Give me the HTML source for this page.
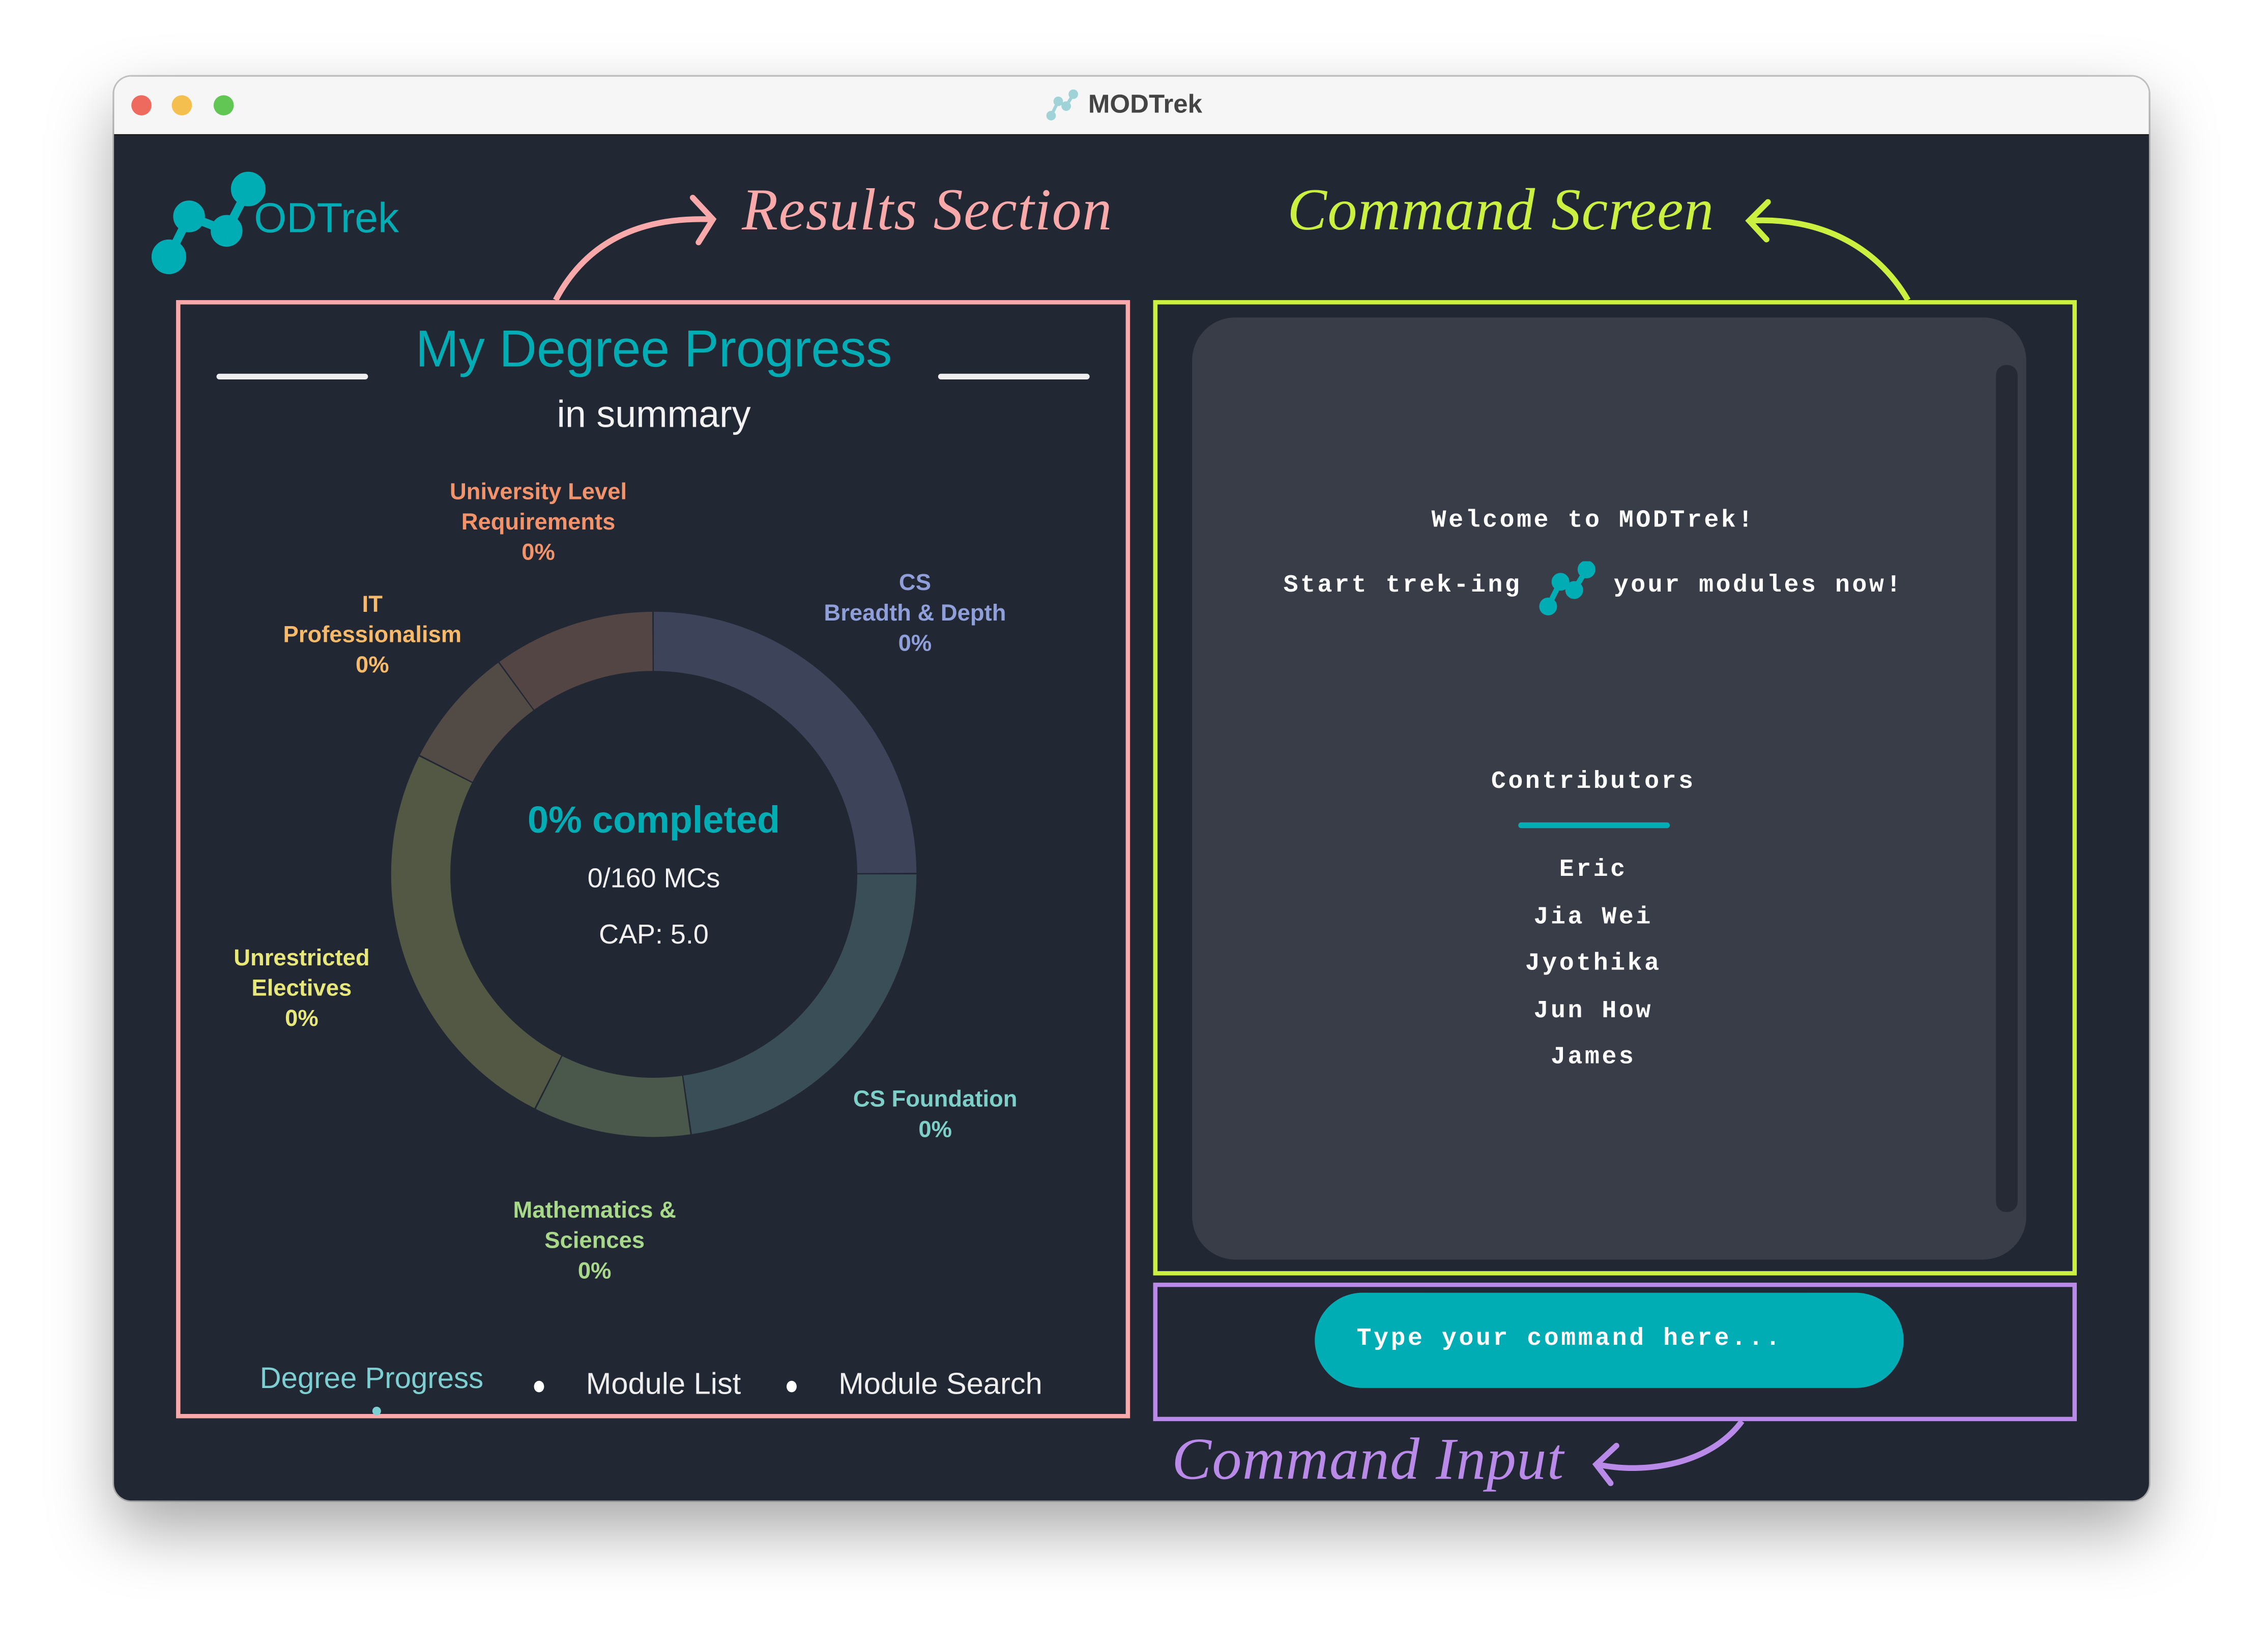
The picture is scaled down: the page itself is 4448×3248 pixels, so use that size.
<!DOCTYPE html>
<html><head><meta charset="utf-8"><style>
html,body{margin:0;padding:0;width:4448px;height:3248px;overflow:hidden;background:#fff}
#w{position:absolute;left:0;top:0;width:1568px;height:1145px;transform:scale(2.8367);transform-origin:0 0;font-family:"Liberation Sans",sans-serif}
.a{position:absolute}
.win{left:79px;top:53px;width:1410px;height:987px;border-radius:12px;background:#212733;overflow:hidden;box-shadow:0 20px 45px rgba(0,0,0,.35),0 0 0 1px #c8c8c8}
.tb{left:0;top:0;width:1410px;height:40px;background:#f6f6f6;border-bottom:1px solid #111}
.c{text-align:center;transform:translateX(-50%);white-space:nowrap}
.lbl{font-size:16px;line-height:21px;font-weight:bold}
.mono{font-family:"Liberation Mono",monospace;font-weight:bold;color:#fff;font-size:17px;letter-spacing:1.6px}
.hand{font-family:"Liberation Serif",serif;font-style:italic;font-size:41px;letter-spacing:0.5px}
</style></head><body><div id="w">
<div class="a win">
 <div class="a tb">
  <div class="a" style="left:12px;top:13px;width:14px;height:14px;border-radius:50%;background:#ee6a5f"></div>
  <div class="a" style="left:40px;top:13px;width:14px;height:14px;border-radius:50%;background:#f5bf4f"></div>
  <div class="a" style="left:69px;top:13px;width:14px;height:14px;border-radius:50%;background:#62c655"></div>
  <svg class="a" style="left:646px;top:8px" width="22" height="24" viewBox="0 0 40 40"><g stroke="#9fd3d8" stroke-width="4" fill="#9fd3d8"><line x1="6" y1="33" x2="15" y2="15"/><line x1="15" y1="15" x2="25" y2="21"/><line x1="25" y1="21" x2="34" y2="6"/><circle cx="6" cy="33" r="4"/><circle cx="15" cy="15" r="4"/><circle cx="25" cy="21" r="4"/><circle cx="34" cy="6" r="4"/></g></svg>
  <div class="a" style="left:675px;top:9px;font-size:18px;font-weight:bold;color:#444">MODTrek</div>
 </div>
</div>
<!-- logo -->
<svg class="a" style="left:100px;top:115px" width="90" height="85" viewBox="100 115 90 85"><g stroke="#00adb5" stroke-width="6" fill="#00adb5"><line x1="117" y1="178" x2="131" y2="150"/><line x1="131" y1="150" x2="157" y2="160"/><line x1="157" y1="160" x2="172" y2="131"/><circle cx="117" cy="178" r="9"/><circle cx="131" cy="150" r="8"/><circle cx="157" cy="160" r="8"/><circle cx="172" cy="131" r="9"/></g></svg>
<div class="a" style="left:176px;top:136px;font-size:29px;color:#00adb5">ODTrek</div>

<svg class="a" style="left:0;top:0" width="1568" height="1145">
 <path d="M385 208 C405 170 440 150 493 152" stroke="#f9a9a9" stroke-width="4" fill="none"/>
 <path d="M480 137 L494 152 L484 168" stroke="#f9a9a9" stroke-width="4" fill="none" stroke-linecap="round"/>
 <path d="M1322 208 C1300 170 1260 150 1212 153" stroke="#ccf03f" stroke-width="4" fill="none"/>
 <path d="M1225 140 L1212 153 L1224 166" stroke="#ccf03f" stroke-width="4" fill="none" stroke-linecap="round"/>
 <path d="M1207 985 C1185 1015 1140 1022 1107 1015" stroke="#b98ae8" stroke-width="4" fill="none"/>
 <path d="M1120 1002 L1106 1015 L1116 1028" stroke="#b98ae8" stroke-width="4" fill="none" stroke-linecap="round"/>
 <g transform="rotate(-90 453 606)" fill="none" stroke-width="41">
  <circle cx="453" cy="606" r="161.5" stroke="#3d4459" stroke-dasharray="252.7 2000" stroke-dashoffset="0"/>
  <circle cx="453" cy="606" r="161.5" stroke="#3a4e57" stroke-dasharray="230.1 2000" stroke-dashoffset="-253.7"/>
  <circle cx="453" cy="606" r="161.5" stroke="#4a574b" stroke-dasharray="97.7 2000" stroke-dashoffset="-484.8"/>
  <circle cx="453" cy="606" r="161.5" stroke="#535845" stroke-dasharray="252.7 2000" stroke-dashoffset="-583.5"/>
  <circle cx="453" cy="606" r="161.5" stroke="#524b45" stroke-dasharray="75.1 2000" stroke-dashoffset="-837.2"/>
  <circle cx="453" cy="606" r="161.5" stroke="#544545" stroke-dasharray="100.5 2000" stroke-dashoffset="-913.2"/>
 </g>
</svg>
<div class="a hand" style="left:514px;top:121px;color:#f9a9a9">Results Section</div>
<div class="a hand" style="left:892px;top:121px;color:#ccf03f">Command Screen</div>
<div class="a hand" style="left:812px;top:987px;color:#b98ae8">Command Input</div>

<div class="a" style="left:122px;top:208px;width:655px;height:769px;border:3px solid #f9a9a9"></div>
<div class="a c" style="left:453px;top:221px;font-size:36px;color:#00adb5">My Degree Progress</div>
<div class="a" style="left:150px;top:259px;width:105px;height:4px;border-radius:2px;background:#eee"></div>
<div class="a" style="left:650px;top:259px;width:105px;height:4px;border-radius:2px;background:#eee"></div>
<div class="a c" style="left:453px;top:272px;font-size:26px;color:#f2f2f2">in summary</div>

<div class="a c lbl" style="left:373px;top:331px;color:#f2936c">University Level<br>Requirements<br>0%</div>
<div class="a c lbl" style="left:634px;top:394px;color:#8f9fd9">CS<br>Breadth &amp; Depth<br>0%</div>
<div class="a c lbl" style="left:258px;top:409px;color:#f7b96a">IT<br>Professionalism<br>0%</div>
<div class="a c lbl" style="left:209px;top:654px;color:#e8e87a">Unrestricted<br>Electives<br>0%</div>
<div class="a c lbl" style="left:648px;top:752px;color:#7dcfc8">CS Foundation<br>0%</div>
<div class="a c lbl" style="left:412px;top:829px;color:#a8d88a">Mathematics &amp;<br>Sciences<br>0%</div>

<div class="a c" style="left:453px;top:553px;font-size:26px;font-weight:bold;color:#00adb5">0% completed</div>
<div class="a c" style="left:453px;top:599px;font-size:19px;color:#f2f2f2">0/160 MCs</div>
<div class="a c" style="left:453px;top:638px;font-size:19px;color:#f2f2f2">CAP: 5.0</div>

<div class="a" style="left:180px;top:944px;font-size:20.5px;color:#7dcfd2">Degree Progress</div>
<div class="a" style="left:258px;top:975px;width:6px;height:6px;border-radius:50%;background:#7dcfd2"></div>
<div class="a" style="left:370px;top:957px;width:7px;height:8px;border-radius:50%;background:#fff"></div>
<div class="a" style="left:406px;top:948px;font-size:21px;color:#eee">Module List</div>
<div class="a" style="left:545px;top:957px;width:7px;height:8px;border-radius:50%;background:#fff"></div>
<div class="a" style="left:581px;top:948px;font-size:21px;color:#eee">Module Search</div>

<div class="a" style="left:799px;top:208px;width:634px;height:670px;border:3px solid #ccf03f"></div>
<div class="a" style="left:826px;top:220px;width:578px;height:653px;border-radius:30px;background:#393d48"></div>
<div class="a" style="left:1383px;top:253px;width:15px;height:587px;border-radius:7px;background:#262a35"></div>
<div class="a c mono" style="left:1104px;top:352px">Welcome to MODTrek!</div>
<div class="a c mono" style="left:1104px;top:397px">Start trek-ing&nbsp;<span style="display:inline-block;width:40px"></span>&nbsp;your modules now!</div>
<svg class="a" style="left:1066px;top:389px" width="40" height="38" viewBox="0 0 40 40"><g stroke="#00adb5" stroke-width="4" fill="#00adb5"><line x1="6" y1="33" x2="15" y2="15"/><line x1="15" y1="15" x2="25" y2="21"/><line x1="25" y1="21" x2="34" y2="6"/><circle cx="6" cy="33" r="4.5"/><circle cx="15" cy="15" r="4.5"/><circle cx="25" cy="21" r="4.5"/><circle cx="34" cy="6" r="4.5"/></g></svg>
<div class="a c mono" style="left:1104px;top:533px">Contributors</div>
<div class="a" style="left:1052px;top:570px;width:105px;height:4px;border-radius:2px;background:#00adb5"></div>
<div class="a c mono" style="left:1104px;top:588px;line-height:32.5px">Eric<br>Jia Wei<br>Jyothika<br>Jun How<br>James</div>

<div class="a" style="left:799px;top:889px;width:634px;height:90px;border:3px solid #b98ae8"></div>
<div class="a" style="left:911px;top:896px;width:408px;height:66px;border-radius:33px;background:#00adb5"></div>
<div class="a mono" style="left:940px;top:919px;font-size:17px">Type your command here...</div>
</div></body></html>
